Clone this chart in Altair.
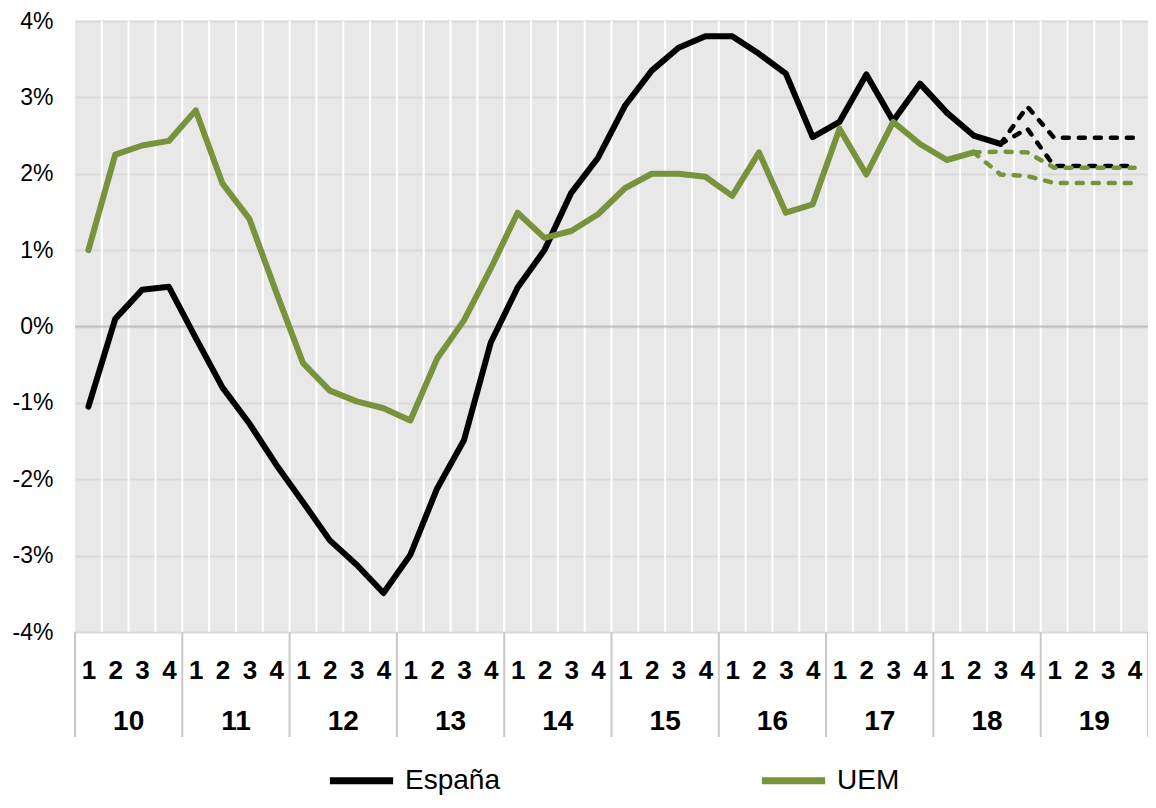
import altair as alt
import pandas as pd

# ---------------- data ----------------
years = ["10", "11", "12", "13", "14", "15", "16", "17", "18", "19"]
quarter_labels = ["1", "2", "3", "4"]
y_ticks = [-4, -3, -2, -1, 0, 1, 2, 3, 4]

# España, 2010Q1 .. 2018Q3
espana = [-1.05, 0.10, 0.48, 0.52, -0.15, -0.80, -1.27, -1.81, -2.30, -2.80,
          -3.12, -3.49, -2.99, -2.12, -1.49, -0.21, 0.51, 1.00, 1.75, 2.21,
          2.89, 3.35, 3.65, 3.80, 3.80, 3.57, 3.31, 2.48, 2.68, 3.30,
          2.69, 3.18, 2.80, 2.50, 2.39]
# UEM, 2010Q1 .. 2018Q2
uem = [1.00, 2.25, 2.37, 2.43, 2.83, 1.87, 1.41, 0.45, -0.48, -0.84,
       -0.98, -1.07, -1.23, -0.42, 0.08, 0.76, 1.49, 1.16, 1.25, 1.47,
       1.81, 2.00, 2.00, 1.96, 1.71, 2.28, 1.49, 1.60, 2.59, 1.99,
       2.68, 2.39, 2.18, 2.28]
# projections (dashed), España from 2018Q3, UEM from 2018Q2
esp_proj_high = [2.39, 2.88, 2.47, 2.47, 2.47, 2.47]
esp_proj_low = [2.39, 2.59, 2.10, 2.10, 2.10, 2.10]
uem_proj_high = [2.28, 2.29, 2.28, 2.08, 2.08, 2.08, 2.08]
uem_proj_low = [2.28, 1.99, 1.97, 1.88, 1.88, 1.88, 1.88]

n_q = len(years) * len(quarter_labels)

esp_df = pd.DataFrame({"idx": range(len(espana)), "value": espana, "serie": "España"})
uem_df = pd.DataFrame({"idx": range(len(uem)), "value": uem, "serie": "UEM"})

esp_start = len(espana) - 1
uem_start = len(uem) - 1
esp_dash = pd.DataFrame({
    "idx": list(range(esp_start, esp_start + len(esp_proj_high))) * 2,
    "value": esp_proj_high + esp_proj_low,
    "branch": ["alto"] * len(esp_proj_high) + ["bajo"] * len(esp_proj_low),
})
uem_dash = pd.DataFrame({
    "idx": list(range(uem_start, uem_start + len(uem_proj_high))) * 2,
    "value": uem_proj_high + uem_proj_low,
    "branch": ["alto"] * len(uem_proj_high) + ["bajo"] * len(uem_proj_low),
})

bounds_df = pd.DataFrame({"idx": [i + 0.5 for i in range(n_q - 1)]})
year_df = pd.DataFrame({"idx": [4 * k + 1.5 for k in range(len(years))], "year": years})
sep_df = pd.DataFrame({"idx": [4 * k - 0.5 for k in range(len(years) + 1)]})
zero_df = pd.DataFrame({"value": [0]})

# ---------------- chart ----------------
W, H = 1073, 611
BLACK = "#000000"
GREEN = "#77933c"

x_scale = alt.Scale(domain=[-0.5, n_q - 0.5], nice=False, zero=False)
y_scale = alt.Scale(domain=[-4, 4], nice=False, zero=False)
color_scale = alt.Scale(domain=["España", "UEM"], range=[BLACK, GREEN])

x_axis = alt.Axis(
    values=list(range(n_q)),
    labelExpr=f"{quarter_labels}[datum.value % 4]",
    ticks=False, tickSize=0, grid=False, domain=False, title=None,
    labelFontSize=26, labelFontWeight="bold", labelColor="black",
    labelBaseline="middle", labelPadding=38, labelFlush=False,
    labelOverlap=False, labelFont="Liberation Sans",
)
y_axis = alt.Axis(
    values=y_ticks, labelExpr="datum.value + '%'",
    grid=True, gridColor="#d9d9d9", gridWidth=2,
    ticks=False, tickSize=0, domain=False, title=None,
    labelFontSize=23, labelColor="black", labelPadding=22,
    labelFont="Liberation Sans",
)

legend = alt.Legend(
    title=None, orient="none", direction="horizontal",
    legendX=251, legendY=724,
    symbolType="stroke", symbolStrokeWidth=7, symbolSize=4000,
    labelFontSize=28, labelFont="Liberation Sans", labelColor="black",
    labelOffset=8, columnPadding=247, padding=0,
)

X = alt.X("idx:Q", scale=x_scale, axis=x_axis)
Y = alt.Y("value:Q", scale=y_scale, axis=y_axis)

white_v = alt.Chart(bounds_df).mark_rule(color="#ffffff", strokeWidth=2).encode(
    x=X, y=alt.value(0), y2=alt.value(H),
)

zero_line = alt.Chart(zero_df).mark_rule(color="#bfbfbf", strokeWidth=2).encode(
    y=Y,
)

seps = alt.Chart(sep_df).mark_rule(color="#c8c8c8", strokeWidth=2).encode(
    x=X, y=alt.value(H), y2=alt.value(H + 105),
)

year_text = alt.Chart(year_df).mark_text(
    fontSize=28, fontWeight="bold", font="Liberation Sans", color="black",
    baseline="middle", align="center",
).encode(
    x=X, y=alt.value(H + 90), text="year:N",
)

esp_dash_l = alt.Chart(esp_dash).mark_line(
    strokeWidth=4.5, strokeDash=[6, 10], strokeCap="round", color=BLACK
).encode(x=X, y=Y, detail="branch:N")

uem_dash_l = alt.Chart(uem_dash).mark_line(
    strokeWidth=4.5, strokeDash=[6, 10], strokeCap="round", color=GREEN
).encode(x=X, y=Y, detail="branch:N")

esp_line = alt.Chart(esp_df).mark_line(
    strokeWidth=6, strokeCap="round", strokeJoin="round"
).encode(
    x=X, y=Y,
    color=alt.Color("serie:N", scale=color_scale, legend=legend),
)
uem_line = alt.Chart(uem_df).mark_line(
    strokeWidth=6, strokeCap="round", strokeJoin="round"
).encode(
    x=X, y=Y,
    color=alt.Color("serie:N", scale=color_scale, legend=legend),
)

chart = alt.layer(
    white_v, zero_line, seps, year_text,
    esp_dash_l, uem_dash_l, esp_line, uem_line,
).properties(
    width=W, height=H,
    autosize=alt.AutoSizeParams(type="none"),
    padding={"left": 67, "top": 13, "right": 0, "bottom": 167},
).configure(
    font="Liberation Sans", background="#ffffff",
).configure_view(
    fill="#e8e8e8", stroke=None,
)

chart.save("out.html", embed_options={"renderer": "svg", "actions": False})
